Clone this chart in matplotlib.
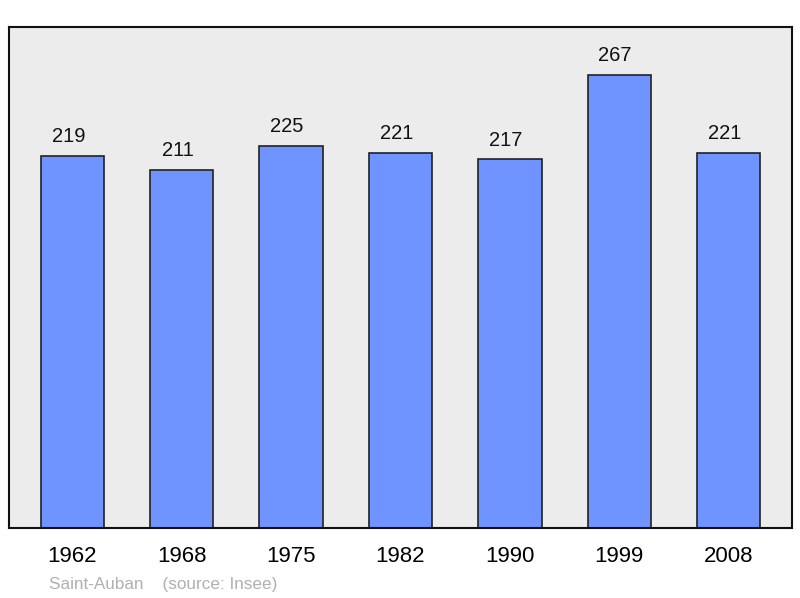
import matplotlib
matplotlib.use("Agg")
import matplotlib.pyplot as plt

plt.rcParams['font.family'] = ['Liberation Sans', 'DejaVu Sans']

years = ["1962", "1968", "1975", "1982", "1990", "1999", "2008"]
population = [219, 211, 225, 221, 217, 267, 221]

fig = plt.figure(figsize=(8, 5.98), dpi=100)
ax = fig.add_axes([9/800, 70/598, 783/800, 501/598])
ax.set_facecolor("#ececec")

x = range(len(years))
bars = ax.bar(x, population, width=0.58, color="#7094ff", edgecolor="#222222", linewidth=1.2)
ax.set_xlim(-0.58, 6.58)
ax.set_ylim(0, 295)

for xi, v in zip(x, population):
    ax.annotate(str(v), (xi, v), xytext=(-3, 7), textcoords="offset points",
                ha="center", va="bottom", fontsize=14.5, color="#111111")

ax.set_xticks(list(x))
ax.set_xticklabels(years, fontsize=16)
ax.tick_params(axis="x", length=0, pad=13)
ax.set_yticks([])
for s in ax.spines.values():
    s.set_linewidth(1.5)
    s.set_color("#111111")

fig.text(49/800, 1 - 584/598, "Saint-Auban    (source: Insee)", fontsize=12.3,
         color="#b0b0b0", va="center", ha="left")

fig.savefig("out.png", dpi=100)
